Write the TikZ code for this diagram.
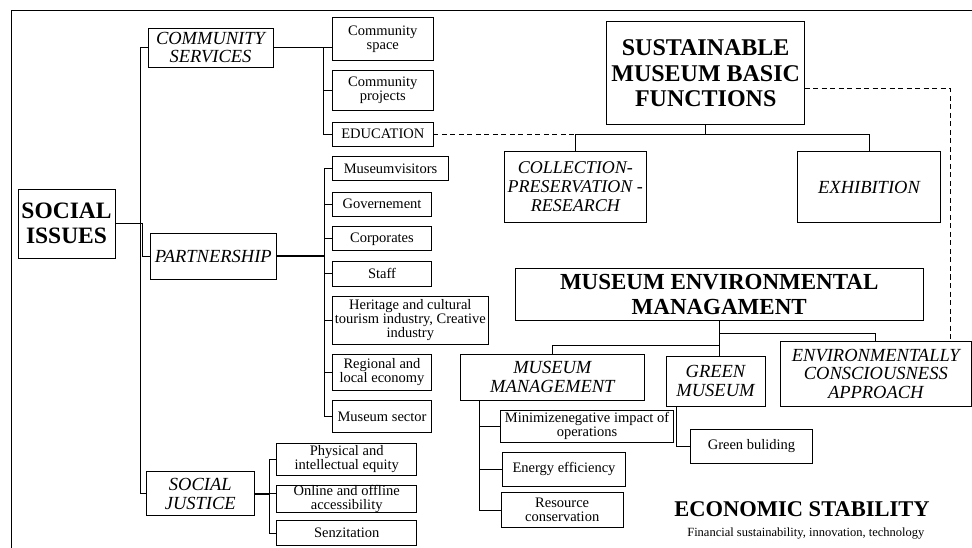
\documentclass[tikz,border=0pt]{standalone}
\usepackage{fontspec}
\setmainfont{Liberation Serif}
\begin{document}
\begin{tikzpicture}[x=1pt,y=-1pt,
  every node/.style={inner sep=0pt, outer sep=0pt},
  box/.style={draw, line width=0.9pt, align=center, font=\fontsize{14.5}{14}\selectfont},
  catbox/.style={box, font=\fontsize{18.5}{18.7}\selectfont\itshape},
  headbox/.style={box, font=\fontsize{23.5}{25}\selectfont\bfseries},
  sz/.style 2 args={minimum width=#1pt, minimum height=#2pt},
  link/.style={line width=0.9pt},
  heavy/.style={line width=1.8pt},
  dashlink/.style={line width=0.9pt, dash pattern=on 5pt off 3.5pt}]

\useasboundingbox (0,0) rectangle (972,548);
\clip (0,0) rectangle (972,548);

% outer frame
\draw[line width=1pt] (11,560) -- (11,10.3) -- (990,10.3);

% --- social issues branch ---
\node[headbox, sz={97}{69}] (soc) at (66.5,223.5) {SOCIAL\\ISSUES};
\node[catbox, sz={125}{39}] (cs) at (210.5,47.5) {COMMUNITY\\SERVICES};
\node[catbox, sz={125.3}{45.7}] (part) at (213.3,256.2) {PARTNERSHIP};
\node[catbox, sz={107.3}{44}] (sj) at (200.3,493.7) {SOCIAL\\JUSTICE};

\node[box, sz={101}{43}] (cspace) at (382.8,39.2) {Community\\space};
\node[box, sz={101}{40}] (cproj) at (382.8,90.7) {Community\\projects};
\node[box, sz={101}{24}] (edu) at (382.8,134) {EDUCATION};

\node[box, sz={116.4}{24.3}] (mv) at (390.5,168.8) {Museumvisitors};
\node[box, sz={99.4}{23.7}] (gov) at (382,204.2) {Governement};
\node[box, sz={99.4}{24.3}] (corp) at (382,238.8) {Corporates};
\node[box, sz={99.4}{24.3}] (staff) at (382,273.8) {Staff};
\node[box, sz={156}{48}] (her) at (410.3,320) {Heritage and cultural\\tourism industry, Creative\\industry};
\node[box, sz={99.4}{36.7}] (reg) at (382,372.3) {Regional and\\local economy};
\node[box, sz={99.4}{31.6}] (msec) at (382,416.5) {Museum sector};

\node[box, sz={140}{31.7}] (phys) at (346.7,459.2) {Physical and\\intellectual equity};
\node[box, sz={140}{24}] (online) at (346.7,498.7) {Online and offline\\accessibility};
\node[box, sz={140}{25}] (senz) at (346.7,533.2) {Senzitation};

\coordinate (trunk) at (140,0);
\coordinate (socj) at (142.7,0);
\coordinate (cbus) at (323.3,0);
\coordinate (pbus) at (324,0);
\coordinate (sjbus) at (269.3,0);

\draw[link] (cs.west) -- (trunk |- cs.west) -- (trunk |- sj.west) -- (sj.west);
\draw[link] (soc.east) -| (socj |- part.west) -- (part.west);

\draw[heavy] (cs.east) -- (cbus |- cs.east);
\draw[link] (cbus |- cs.east) -- (cspace.west |- cs.east);
\draw[link] (cbus |- cs.east) |- (edu.west);
\draw[link] (cbus |- cproj.west) -- (cproj.west);

\draw[heavy] (part.east) -- (pbus |- part.east);
\draw[link] (mv.west) -| (pbus |- msec.west) -- (msec.west);
\foreach \n in {gov,corp,staff,her,reg}
  \draw[link] (pbus |- \n.west) -- (\n.west);

\draw[heavy] (sj.east) -- (sjbus |- sj.east);
\draw[link] (phys.west) -| (sjbus |- senz.west) -- (senz.west);
\draw[link] (sjbus |- sj.east) -- (online.west |- sj.east);

% --- basic functions ---
\node[headbox, sz={198}{103}, font=\fontsize{24}{25.5}\selectfont\bfseries] (sust) at (705.7,73.2) {SUSTAINABLE\\MUSEUM BASIC\\FUNCTIONS};
\node[catbox, sz={142.7}{70.6}, font=\fontsize{18}{19}\selectfont\itshape] (coll) at (575.3,187) {COLLECTION-\\PRESERVATION -\\RESEARCH};
\node[catbox, sz={143.4}{70.6}] (exh) at (869,187) {EXHIBITION};

\coordinate (sbus) at (0,134.5);
\draw[link] (coll.north) -- (coll.north |- sbus) -- (exh.north |- sbus) -- (exh.north);
\draw[link] (sust.south) -- (sust.south |- sbus);
\draw[dashlink] (edu.east) -- (coll.north |- edu.east);

% --- environmental management ---
\node[headbox, sz={408.3}{52.4}, font=\fontsize{23}{24.7}\selectfont\bfseries] (mem) at (719.2,294.5) {MUSEUM ENVIRONMENTAL\\MANAGAMENT};
\node[catbox, sz={183.3}{46.7}] (mm) at (552.3,377.3) {MUSEUM\\MANAGEMENT};
\node[catbox, sz={99}{50}] (gm) at (715.5,381) {GREEN\\MUSEUM};
\node[catbox, sz={191.7}{64.3}] (env) at (875.8,373.8) {ENVIRONMENTALLY\\CONSCIOUSNESS\\APPROACH};

\draw[link] (mem.south) -- (mem.south |- gm.north);
\draw[link] (mem.south) ++(0,12.6) -| (env.north);
\draw[link] (mem.south) ++(0,25) -| (mm.north);

\coordinate (dashy) at (0,88.3);
\coordinate (dashx) at (950,0);
\draw[dashlink] (sust.east |- dashy) -| (dashx |- env.north);

\node[box, sz={172.6}{32.7}] (mini) at (587,426.3) {Minimizenegative impact of\\operations};
\node[box, sz={123.4}{33.7}] (ener) at (564,469.2) {Energy efficiency};
\node[box, sz={122.3}{34.6}] (res) at (562.2,510) {Resource\\conservation};
\node[box, sz={121.6}{34.3}] (gb) at (751.5,446.2) {Green buliding};

\coordinate (mmbus) at (479,0);
\coordinate (gmbus) at (676,0);
\draw[link] (mm.south -| mmbus) |- (res.west);
\draw[link] (mmbus |- mini.west) -- (mini.west);
\draw[link] (mmbus |- ener.west) -- (ener.west);
\draw[link] (gm.south -| gmbus) |- (gb.west);

% --- economic stability ---
\node[anchor=base, font=\fontsize{22.5}{24}\selectfont\bfseries] (eco) at (802,516.7) {ECONOMIC STABILITY};
\node[anchor=base, font=\fontsize{12.5}{14}\selectfont] (fin) at (805.8,536.7) {Financial sustainability, innovation, technology};

\end{tikzpicture}
\end{document}
